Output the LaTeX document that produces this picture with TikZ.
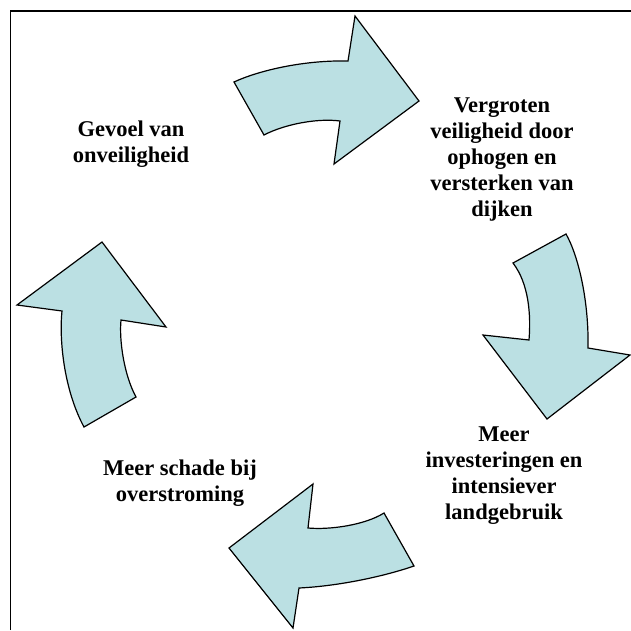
\documentclass[tikz,border=0pt]{standalone}
\usepackage{fontspec}
\setmainfont{Liberation Serif}
\definecolor{arrowfill}{RGB}{187,224,227}
\begin{document}
\begin{tikzpicture}[x=1pt,y=-1pt,
  cyclearrow/.style={draw=black, fill=arrowfill, line width=1.2pt, line join=miter},
  label/.style={align=center, inner sep=0pt, anchor=north,
    font={\fontsize{22.5}{26}\selectfont\bfseries}},
  frame/.style={draw=black, line width=1.6pt}]
\useasboundingbox (0,0) rectangle (631,630);
% frame (top and left edges visible)
\draw[frame] (10.5,630) -- (10.5,11) -- (631,11);
% top arrow
\draw[cyclearrow] (234,82) .. controls (260,70) and (305,60) .. (348,61)
  -- (355,16) -- (419,101) -- (334,164) -- (340,121)
  .. controls (318,118) and (285,124) .. (264,135) -- cycle;
% right arrow
\draw[cyclearrow] (513,263) -- (566,234)
  .. controls (578,255) and (589,300) .. (588,348)
  -- (630,355) -- (547,419) -- (483,335) -- (529,340)
  .. controls (531,315) and (529,284) .. (513,263) -- cycle;
% bottom arrow
\draw[cyclearrow] (384,513) -- (414,566)
  .. controls (385,576) and (340,586) .. (299,588)
  -- (293,628) -- (229,548) -- (313,484) -- (308,528)
  .. controls (330,530) and (365,525) .. (384,513) -- cycle;
% left arrow
\draw[cyclearrow] (84,427) -- (136,397)
  .. controls (124,375) and (119,340) .. (121,320)
  -- (166,327) -- (102,242) -- (17,305) -- (62,311)
  .. controls (59,340) and (64,390) .. (84,427) -- cycle;
% labels
\node[label] (gevoel) at (131,120.5) {Gevoel van\\onveiligheid};
\node[label] (vergroten) at (502,97.5) {Vergroten\\veiligheid door\\ophogen en\\versterken van\\dijken};
\node[label] (meerinv) at (504,427) {Meer\\investeringen en\\intensiever\\landgebruik};
\node[label] (schade) at (180,460) {Meer schade bij\\overstroming};
\end{tikzpicture}
\end{document}
